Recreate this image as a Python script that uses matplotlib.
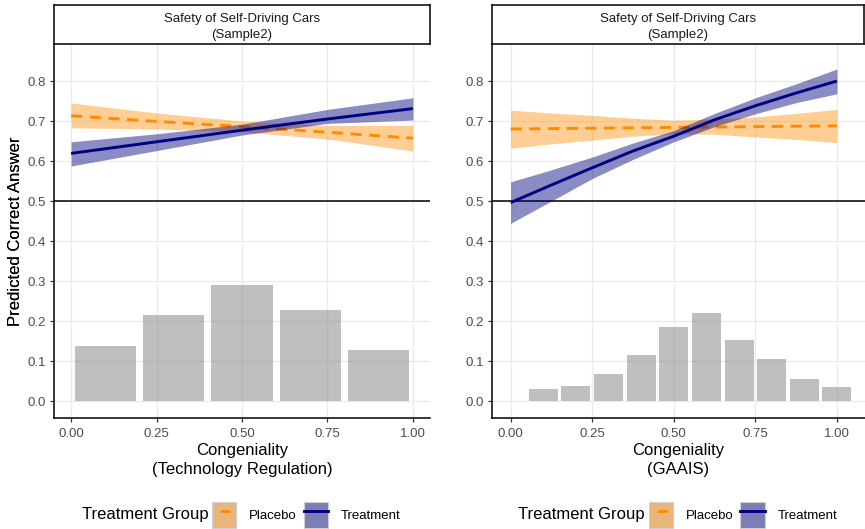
import matplotlib
matplotlib.use("Agg")
import matplotlib.pyplot as plt
from matplotlib.patches import Patch
from matplotlib.lines import Line2D
from matplotlib.legend_handler import HandlerTuple

plt.rcParams['font.family'] = ['Liberation Sans', 'DejaVu Sans']

# ---------------- data ----------------
strip_title = "Safety of Self-Driving Cars\n(Sample2)"
y_label = "Predicted Correct Answer"
x_labels = ["Congeniality\n(Technology Regulation)", "Congeniality\n(GAAIS)"]
x_ticks = [0.0, 0.25, 0.5, 0.75, 1.0]
x_tick_labels = ["0.00", "0.25", "0.50", "0.75", "1.00"]
y_ticks = [0.0, 0.1, 0.2, 0.3, 0.4, 0.5, 0.6, 0.7, 0.8]
y_tick_labels = ["0.0", "0.1", "0.2", "0.3", "0.4", "0.5", "0.6", "0.7", "0.8"]
legend_title = "Treatment Group"
groups = ["Placebo", "Treatment"]
reference_line = 0.5

# Panel 1: Technology Regulation
p1_hist_x = [0.1, 0.3, 0.5, 0.7, 0.9]
p1_hist_h = [0.138, 0.215, 0.289, 0.228, 0.128]
p1_x = [0.0, 0.25, 0.5, 0.75, 1.0]
p1_placebo = [0.713, 0.699, 0.686, 0.672, 0.657]
p1_placebo_lo = [0.683, 0.680, 0.673, 0.655, 0.625]
p1_placebo_hi = [0.745, 0.720, 0.700, 0.689, 0.689]
p1_treat = [0.619, 0.648, 0.677, 0.705, 0.731]
p1_treat_lo = [0.5875, 0.626, 0.665, 0.694, 0.7025]
p1_treat_hi = [0.648, 0.668, 0.692, 0.729, 0.758]

# Panel 2: GAAIS
p2_hist_x = [0.1, 0.2, 0.3, 0.4, 0.5, 0.6, 0.7, 0.8, 0.9, 1.0]
p2_hist_h = [0.030, 0.037, 0.067, 0.116, 0.184, 0.219, 0.152, 0.104, 0.055, 0.034]
p2_x = [0.0, 0.125, 0.25, 0.375, 0.5, 0.625, 0.75, 0.875, 1.0]
p2_placebo = [0.680, 0.681, 0.682, 0.683, 0.684, 0.685, 0.686, 0.687, 0.688]
p2_placebo_lo = [0.632, 0.643, 0.652, 0.662, 0.668, 0.667, 0.660, 0.654, 0.646]
p2_placebo_hi = [0.727, 0.720, 0.714, 0.707, 0.702, 0.705, 0.710, 0.719, 0.729]
p2_treat = [0.496, 0.540, 0.583, 0.625, 0.662, 0.703, 0.738, 0.770, 0.800]
p2_treat_lo = [0.444, 0.500, 0.556, 0.604, 0.648, 0.686, 0.718, 0.746, 0.768]
p2_treat_hi = [0.548, 0.578, 0.610, 0.645, 0.676, 0.719, 0.758, 0.793, 0.830]

# ---------------- style ----------------
W, H = 865, 529
ORANGE = "#FF8C00"
NAVY = "#000080"
ORANGE_KEY = "#E8B57A"
NAVY_KEY = "#7C7CB6"

fig = plt.figure(figsize=(W / 100, H / 100), dpi=100)


def px_axes(x0, y_top, x1, y_bot):
    return [x0 / W, 1 - y_bot / H, (x1 - x0) / W, (y_bot - y_top) / H]


panels = [
    dict(rect=(54, 44, 430, 418), strip=(54, 5, 430, 44), xlim=(-0.05, 1.05),
         hx=p1_hist_x, hh=p1_hist_h, bw=0.18, x=p1_x,
         pl=(p1_placebo, p1_placebo_lo, p1_placebo_hi),
         tr=(p1_treat, p1_treat_lo, p1_treat_hi), xlabel=x_labels[0]),
    dict(rect=(492, 44, 865, 418), strip=(492, 5, 864, 44), xlim=(-0.057, 1.086),
         hx=p2_hist_x, hh=p2_hist_h, bw=0.089, x=p2_x,
         pl=(p2_placebo, p2_placebo_lo, p2_placebo_hi),
         tr=(p2_treat, p2_treat_lo, p2_treat_hi), xlabel=x_labels[1]),
]

for P in panels:
    x0, yt, x1, yb = P["rect"]
    ax = fig.add_axes(px_axes(x0, yt, x1, yb))
    ax.set_xlim(*P["xlim"])
    ax.set_ylim(-0.0425, 0.8925)
    ax.set_axisbelow(True)
    ax.grid(True, color="#EBEBEB", linewidth=1.0)

    ax.bar(P["hx"], P["hh"], width=P["bw"], color="grey", alpha=0.5, linewidth=0, zorder=2)
    ax.axhline(reference_line, color="black", linewidth=1.1, zorder=3)

    x = P["x"]
    fit, lo, hi = P["pl"]
    ax.fill_between(x, lo, hi, color=ORANGE, alpha=0.42, linewidth=0, zorder=4)
    ax.plot(x, fit, color=ORANGE, linewidth=2.1, dashes=(3.8, 2.6), zorder=5)
    fit, lo, hi = P["tr"]
    ax.fill_between(x, lo, hi, color=NAVY, alpha=0.45, linewidth=0, zorder=6)
    ax.plot(x, fit, color=NAVY, linewidth=2.1, zorder=7, solid_capstyle="butt")

    for s in ("top", "right"):
        ax.spines[s].set_visible(False)
    for s in ("left", "bottom"):
        ax.spines[s].set_color("black")
        ax.spines[s].set_linewidth(1.1)

    ax.set_xticks(x_ticks)
    ax.set_xticklabels(x_tick_labels)
    ax.set_yticks(y_ticks)
    ax.set_yticklabels(y_tick_labels)
    ax.tick_params(axis="both", length=2.8, width=0.9, color="#333333",
                   labelcolor="#4D4D4D", labelsize=9.5)
    ax.tick_params(axis="x", pad=4.5)
    ax.tick_params(axis="y", pad=3)

    ax.set_ylabel(y_label, fontsize=12, color="black")
    ax.yaxis.set_label_coords((23 - x0) / (x1 - x0), 0.5)
    ax.set_xlabel(P["xlabel"], fontsize=12, color="black", linespacing=1.35)
    ax.xaxis.set_label_coords(0.5, -0.066)

    # strip
    sx0, syt, sx1, syb = P["strip"]
    sax = fig.add_axes(px_axes(sx0, syt, sx1, syb))
    sax.set_xticks([])
    sax.set_yticks([])
    sax.set_facecolor("white")
    for s in sax.spines.values():
        s.set_color("black")
        s.set_linewidth(1.1)
    sax.text(0.5, 0.43, strip_title, ha="center", va="center", fontsize=9.5,
             color="#1A1A1A", linespacing=1.4, transform=sax.transAxes)

    # legend
    cx = (x0 + x1) / 2
    fig.text((cx - 160) / W, 1 - 515 / H, legend_title, fontsize=12,
             ha="left", va="center", color="black")
    h_pl = (Patch(facecolor=ORANGE_KEY, edgecolor="#D0D0D0", linewidth=0.8),
            Line2D([0], [0], color=ORANGE, linewidth=2.1, linestyle=(3.2, (3.2, 2.9))))
    h_tr = (Patch(facecolor=NAVY_KEY, edgecolor="#D0D0D0", linewidth=0.8),
            Line2D([0], [0], color=NAVY, linewidth=2.1))
    leg = fig.legend([h_pl, h_tr], groups, loc="center left",
                     bbox_to_anchor=((cx - 30) / W, 1 - 515 / H),
                     bbox_transform=fig.transFigure, ncol=2, frameon=False,
                     fontsize=9.5, handlelength=1.85, handleheight=2.6,
                     handletextpad=0.95, columnspacing=0.55, borderpad=0,
                     borderaxespad=0,
                     handler_map={tuple: HandlerTuple(ndivide=1, pad=0)})

fig.savefig("out.png", dpi=100)
